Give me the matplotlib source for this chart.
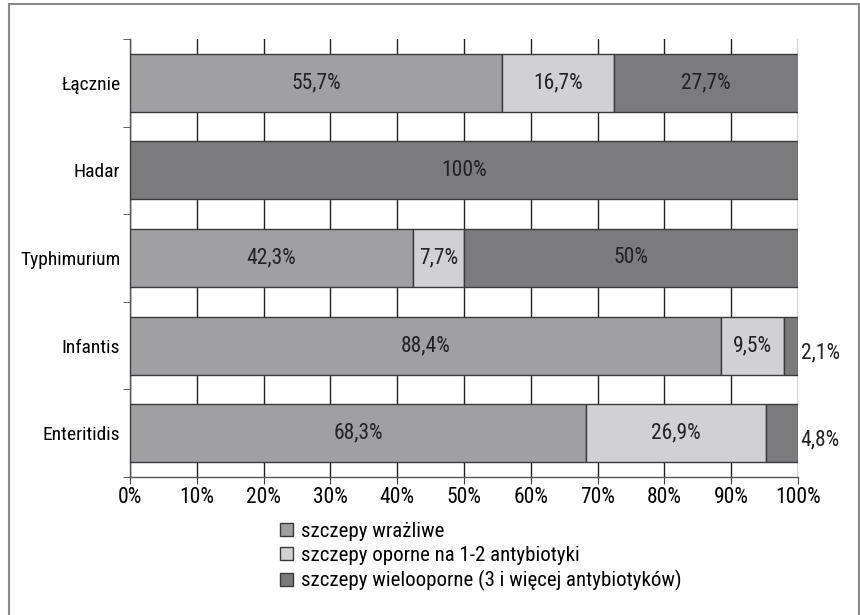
import matplotlib
matplotlib.use("Agg")
import matplotlib.pyplot as plt
from matplotlib import font_manager
from matplotlib.patches import Patch, Rectangle

names = {f.name for f in font_manager.fontManager.ttflist}
narrow = [n for n in ['Liberation Sans Narrow', 'Roboto Condensed', 'Open Sans Condensed']
          if n in names]
plt.rcParams['font.family'] = narrow + ['DejaVu Sans']
plt.rcParams['font.stretch'] = 'condensed'

categories = ['Enteritidis', 'Infantis', 'Typhimurium', 'Hadar', 'Łącznie']
wrazliwe = [68.3, 88.4, 42.3, 0, 55.7]
oporne = [26.9, 9.5, 7.7, 0, 16.7]
wielooporne = [4.8, 2.1, 50.0, 100.0, 27.7]

series_names = ['szczepy wrażliwe',
                'szczepy oporne na 1-2 antybiotyki',
                'szczepy wielooporne (3 i więcej antybiotyków)']
colors = ['#a0a0a3', '#d1d1d3', '#7b7b7e']

fig = plt.figure(figsize=(8.6, 6.15), dpi=100)
ax = fig.add_axes([0.1512, 0.2244, 0.7767, 0.7122])

# outer frame
fig.patches.append(Rectangle((9 / 860, -0.05), 850 / 860, 1 - 4 / 615 + 0.05,
                             transform=fig.transFigure, fill=False,
                             edgecolor='#8a8a8a', linewidth=1.5))

y = list(range(len(categories)))
left = [0] * len(categories)
for vals, col, name in zip([wrazliwe, oporne, wielooporne], colors, series_names):
    ax.barh(y, vals, left=left, height=0.66, color=col,
            edgecolor='#3a3a3a', linewidth=1.0, zorder=3)
    for i, v in enumerate(vals):
        if v == 0:
            continue
        txt = ('%g' % v).replace('.', ',') + '%'
        if v < 5:
            ax.text(100.4, i - 0.08, txt, ha='left', va='center', fontsize=15.5,
                    color='#222222', zorder=4)
        else:
            ax.text(left[i] + v / 2, i, txt, ha='center', va='center',
                    fontsize=15.5, color='#222222', zorder=4)
    left = [a + b for a, b in zip(left, vals)]

ax.set_xlim(0, 100)
ax.set_ylim(-0.5, 4.5)
ax.set_xticks(range(0, 101, 10))
ax.set_xticklabels(['%d%%' % t for t in range(0, 101, 10)], fontsize=15.5)
ax.set_yticks(y)
ax.set_yticks([i - 0.5 for i in range(6)], minor=True)
ax.set_yticklabels(categories, fontsize=14)
ax.tick_params(axis='y', which='major', length=0, pad=7)
ax.tick_params(axis='y', which='minor', length=5, color='#444444')
ax.tick_params(axis='x', length=5, color='#444444', pad=2)

ax.grid(axis='x', color='#222222', linewidth=1.0, zorder=0)
ax.set_axisbelow(True)
for s in ['top', 'right']:
    ax.spines[s].set_visible(False)
for s in ['left', 'bottom']:
    ax.spines[s].set_color('#555555')
    ax.spines[s].set_linewidth(1.0)

handles = [Patch(facecolor=c, edgecolor='#3a3a3a', label=n)
           for c, n in zip(colors, series_names)]
fig.legend(handles=handles, loc='upper left', bbox_to_anchor=(0.326, 0.152),
           frameon=False, fontsize=15, handlelength=0.6, handleheight=0.6,
           handletextpad=0.4, labelspacing=0.26, borderpad=0, borderaxespad=0)

fig.savefig('out.png', dpi=100)
